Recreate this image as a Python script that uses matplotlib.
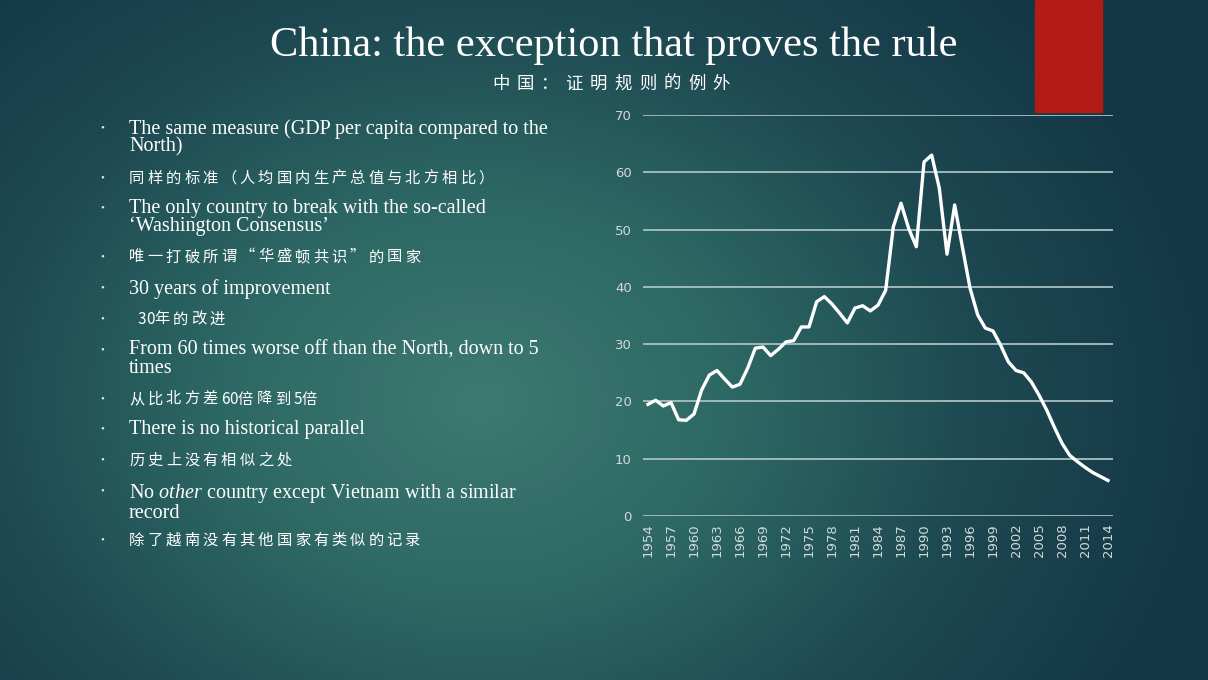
import numpy as np
import matplotlib
matplotlib.use("Agg")
import matplotlib.pyplot as plt
from matplotlib.colors import LinearSegmentedColormap
from matplotlib.patches import Rectangle

# ratio of North GDP per capita to China's
years = list(range(1954, 2015))
ratio = [19.5, 20.2, 19.2, 19.8, 16.8, 16.7, 17.8, 22.0, 24.6, 25.4,
         23.9, 22.5, 23.0, 25.8, 29.3, 29.5, 28.0, 29.1, 30.4, 30.6,
         33.0, 33.0, 37.4, 38.3, 37.0, 35.4, 33.7, 36.3, 36.7, 35.8,
         36.8, 39.4, 50.5, 54.6, 50.2, 47.0, 61.8, 63.0, 57.2, 45.7,
         54.3, 47.0, 39.8, 35.1, 32.8, 32.3, 29.8, 26.9, 25.4, 25.0,
         23.4, 21.1, 18.5, 15.5, 12.7, 10.6, 9.5, 8.5, 7.6, 6.9, 6.2]
yticks = [0, 10, 20, 30, 40, 50, 60, 70]
xticks = years[::3]

title = "China: the exception that proves the rule"
subtitle = "中国：证明规则的例外"
bullets = [
    "The same measure (GDP per capita compared to the\nNorth)",
    "同样的标准（人均国内生产总值与北方相比）",
    "The only country to break with the so-called\n\u2018Washington Consensus\u2019",
    "唯一打破所谓“华盛顿共识”的国家",
    "30 years of improvement",
    " 30年的改进",
    "From 60 times worse off than the North, down to 5\ntimes",
    "从比北方差60倍降到5倍",
    "There is no historical parallel",
    "历史上没有相似之处",
    "No $\\it{other}$ country except Vietnam with a similar\nrecord",
    "除了越南没有其他国家有类似的记录",
]
# y of the first line of each bullet (slide pixels)
bullet_y = [128, 178, 208, 257, 288, 319, 350, 399, 429, 460, 491, 540]

plt.rcParams['mathtext.fontset'] = 'custom'
plt.rcParams['mathtext.rm'] = 'Liberation Serif'
plt.rcParams['mathtext.it'] = 'Liberation Serif:italic'

W, H = 1208, 680
fig = plt.figure(figsize=(W / 100, H / 100), dpi=100)

# background gradient
bg = fig.add_axes([0, 0, 1, 1])
yy, xx = np.mgrid[0:H, 0:W]
d = np.sqrt(((xx - 480) / 760.0) ** 2 + ((yy - 400) / 600.0) ** 2)
d = np.clip(d, 0, 1)
cmap = LinearSegmentedColormap.from_list("bg", ["#3d7a70", "#2d6864", "#1d4851", "#133545"])
bg.imshow(d, cmap=cmap, aspect="auto", extent=[0, W, H, 0])
bg.set_xlim(0, W)
bg.set_ylim(H, 0)
bg.axis("off")
bg.add_patch(Rectangle((1035, 0), 67, 112, color="#b31b16"))

serif = ["Liberation Serif", "DejaVu Serif"]
cjk = ["Noto Sans CJK SC", "DejaVu Sans"]


def spaced(x, y, txt, size, wide, narrow):
    # CJK lines on the slide are set with loose letter spacing
    for ch in txt:
        w = wide if ord(ch) > 0x2e80 or ch in "“”" else narrow
        bg.text(x, y, ch, ha="left", va="center", fontsize=size, color="white",
                family=cjk, fontweight="medium")
        x += w


bg.text(614, 46, title, ha="center", va="center", fontsize=30.5, color="white",
        family=serif)
spaced(492, 84, subtitle, 12.5, 24.5, 10)

for txt, y in zip(bullets, bullet_y):
    is_cjk = any(ord(c) > 0x2e80 for c in txt)
    bg.text(100, y, "•", ha="left", va="center", fontsize=8, color="#dde6e6",
            family=serif)
    if is_cjk:
        spaced(129, y, txt, 11, 18.4, 8.5)
    else:
        bg.text(129, y - 9, txt, ha="left", va="top", fontsize=14.5,
                color="white", family=serif, linespacing=0.9)

# chart
ax = fig.add_axes([643 / W, 1 - 516 / H, 470 / W, 401 / H])
ax.patch.set_alpha(0)
ax.plot(years, ratio, color="white", lw=2.4, solid_joinstyle="round")
ax.set_xlim(1953.35, 2014.65)
ax.set_ylim(0, 70)
ax.set_yticks(yticks)
ax.set_xticks(xticks)
ax.set_xticklabels([str(x) for x in xticks], rotation=90)
ax.grid(axis="y", color="#a9c0c0", lw=1.3)
ax.set_axisbelow(True)
for s in ax.spines.values():
    s.set_visible(False)
ax.tick_params(length=0, colors="#d0dada", labelsize=9.5, pad=8)
ax.tick_params(axis="x", pad=5)

fig.savefig("out.png", dpi=100)
